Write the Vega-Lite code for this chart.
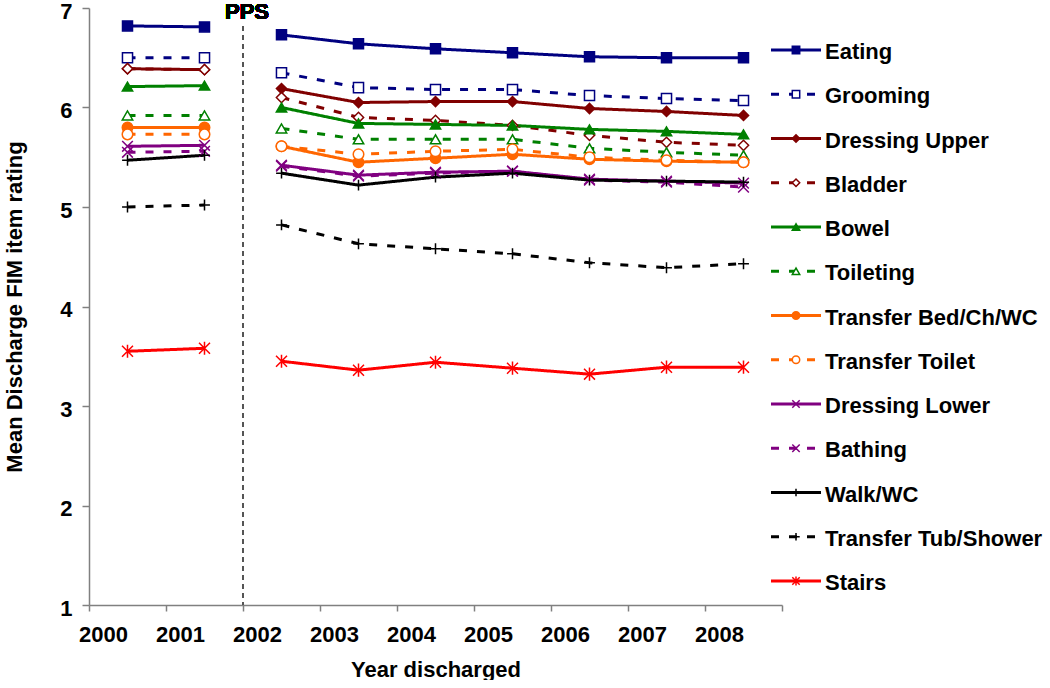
{
  "$schema": "https://vega.github.io/schema/vega-lite/v6.json",
  "padding": {"left": 3, "top": 0, "right": 0, "bottom": 0},
  "autosize": {"type": "pad"},
  "bounds": "flush",
  "spacing": 0,
  "config": {"view": {"stroke": null}, "font": "Liberation Sans"},
  "data": {"values": [
    {"item": "Eating", "year": 2000, "value": 6.82}, {"item": "Eating", "year": 2001, "value": 6.81}, {"item": "Eating", "year": 2002, "value": 6.73}, {"item": "Eating", "year": 2003, "value": 6.64}, {"item": "Eating", "year": 2004, "value": 6.59}, {"item": "Eating", "year": 2005, "value": 6.55}, {"item": "Eating", "year": 2006, "value": 6.51}, {"item": "Eating", "year": 2007, "value": 6.50}, {"item": "Eating", "year": 2008, "value": 6.50},
    {"item": "Grooming", "year": 2000, "value": 6.50}, {"item": "Grooming", "year": 2001, "value": 6.50}, {"item": "Grooming", "year": 2002, "value": 6.35}, {"item": "Grooming", "year": 2003, "value": 6.20}, {"item": "Grooming", "year": 2004, "value": 6.18}, {"item": "Grooming", "year": 2005, "value": 6.18}, {"item": "Grooming", "year": 2006, "value": 6.12}, {"item": "Grooming", "year": 2007, "value": 6.09}, {"item": "Grooming", "year": 2008, "value": 6.07},
    {"item": "Dressing Upper", "year": 2000, "value": 6.39}, {"item": "Dressing Upper", "year": 2001, "value": 6.38}, {"item": "Dressing Upper", "year": 2002, "value": 6.19}, {"item": "Dressing Upper", "year": 2003, "value": 6.05}, {"item": "Dressing Upper", "year": 2004, "value": 6.06}, {"item": "Dressing Upper", "year": 2005, "value": 6.06}, {"item": "Dressing Upper", "year": 2006, "value": 5.99}, {"item": "Dressing Upper", "year": 2007, "value": 5.96}, {"item": "Dressing Upper", "year": 2008, "value": 5.92},
    {"item": "Bladder", "year": 2000, "value": 6.39}, {"item": "Bladder", "year": 2001, "value": 6.38}, {"item": "Bladder", "year": 2002, "value": 6.10}, {"item": "Bladder", "year": 2003, "value": 5.90}, {"item": "Bladder", "year": 2004, "value": 5.87}, {"item": "Bladder", "year": 2005, "value": 5.82}, {"item": "Bladder", "year": 2006, "value": 5.72}, {"item": "Bladder", "year": 2007, "value": 5.65}, {"item": "Bladder", "year": 2008, "value": 5.62},
    {"item": "Bowel", "year": 2000, "value": 6.21}, {"item": "Bowel", "year": 2001, "value": 6.22}, {"item": "Bowel", "year": 2002, "value": 6.00}, {"item": "Bowel", "year": 2003, "value": 5.84}, {"item": "Bowel", "year": 2004, "value": 5.83}, {"item": "Bowel", "year": 2005, "value": 5.82}, {"item": "Bowel", "year": 2006, "value": 5.78}, {"item": "Bowel", "year": 2007, "value": 5.76}, {"item": "Bowel", "year": 2008, "value": 5.73},
    {"item": "Toileting", "year": 2000, "value": 5.92}, {"item": "Toileting", "year": 2001, "value": 5.92}, {"item": "Toileting", "year": 2002, "value": 5.79}, {"item": "Toileting", "year": 2003, "value": 5.68}, {"item": "Toileting", "year": 2004, "value": 5.68}, {"item": "Toileting", "year": 2005, "value": 5.68}, {"item": "Toileting", "year": 2006, "value": 5.59}, {"item": "Toileting", "year": 2007, "value": 5.55}, {"item": "Toileting", "year": 2008, "value": 5.52},
    {"item": "Transfer Bed/Ch/WC", "year": 2000, "value": 5.80}, {"item": "Transfer Bed/Ch/WC", "year": 2001, "value": 5.80}, {"item": "Transfer Bed/Ch/WC", "year": 2002, "value": 5.61}, {"item": "Transfer Bed/Ch/WC", "year": 2003, "value": 5.45}, {"item": "Transfer Bed/Ch/WC", "year": 2004, "value": 5.49}, {"item": "Transfer Bed/Ch/WC", "year": 2005, "value": 5.53}, {"item": "Transfer Bed/Ch/WC", "year": 2006, "value": 5.48}, {"item": "Transfer Bed/Ch/WC", "year": 2007, "value": 5.46}, {"item": "Transfer Bed/Ch/WC", "year": 2008, "value": 5.45},
    {"item": "Transfer Toilet", "year": 2000, "value": 5.73}, {"item": "Transfer Toilet", "year": 2001, "value": 5.73}, {"item": "Transfer Toilet", "year": 2002, "value": 5.61}, {"item": "Transfer Toilet", "year": 2003, "value": 5.53}, {"item": "Transfer Toilet", "year": 2004, "value": 5.56}, {"item": "Transfer Toilet", "year": 2005, "value": 5.58}, {"item": "Transfer Toilet", "year": 2006, "value": 5.50}, {"item": "Transfer Toilet", "year": 2007, "value": 5.47}, {"item": "Transfer Toilet", "year": 2008, "value": 5.45},
    {"item": "Dressing Lower", "year": 2000, "value": 5.61}, {"item": "Dressing Lower", "year": 2001, "value": 5.62}, {"item": "Dressing Lower", "year": 2002, "value": 5.42}, {"item": "Dressing Lower", "year": 2003, "value": 5.32}, {"item": "Dressing Lower", "year": 2004, "value": 5.35}, {"item": "Dressing Lower", "year": 2005, "value": 5.36}, {"item": "Dressing Lower", "year": 2006, "value": 5.28}, {"item": "Dressing Lower", "year": 2007, "value": 5.26}, {"item": "Dressing Lower", "year": 2008, "value": 5.24},
    {"item": "Bathing", "year": 2000, "value": 5.55}, {"item": "Bathing", "year": 2001, "value": 5.56}, {"item": "Bathing", "year": 2002, "value": 5.41}, {"item": "Bathing", "year": 2003, "value": 5.31}, {"item": "Bathing", "year": 2004, "value": 5.34}, {"item": "Bathing", "year": 2005, "value": 5.36}, {"item": "Bathing", "year": 2006, "value": 5.27}, {"item": "Bathing", "year": 2007, "value": 5.25}, {"item": "Bathing", "year": 2008, "value": 5.20},
    {"item": "Walk/WC", "year": 2000, "value": 5.47}, {"item": "Walk/WC", "year": 2001, "value": 5.52}, {"item": "Walk/WC", "year": 2002, "value": 5.34}, {"item": "Walk/WC", "year": 2003, "value": 5.22}, {"item": "Walk/WC", "year": 2004, "value": 5.30}, {"item": "Walk/WC", "year": 2005, "value": 5.34}, {"item": "Walk/WC", "year": 2006, "value": 5.27}, {"item": "Walk/WC", "year": 2007, "value": 5.26}, {"item": "Walk/WC", "year": 2008, "value": 5.25},
    {"item": "Transfer Tub/Shower", "year": 2000, "value": 5.00}, {"item": "Transfer Tub/Shower", "year": 2001, "value": 5.02}, {"item": "Transfer Tub/Shower", "year": 2002, "value": 4.82}, {"item": "Transfer Tub/Shower", "year": 2003, "value": 4.63}, {"item": "Transfer Tub/Shower", "year": 2004, "value": 4.58}, {"item": "Transfer Tub/Shower", "year": 2005, "value": 4.53}, {"item": "Transfer Tub/Shower", "year": 2006, "value": 4.44}, {"item": "Transfer Tub/Shower", "year": 2007, "value": 4.39}, {"item": "Transfer Tub/Shower", "year": 2008, "value": 4.43},
    {"item": "Stairs", "year": 2000, "value": 3.55}, {"item": "Stairs", "year": 2001, "value": 3.58}, {"item": "Stairs", "year": 2002, "value": 3.45}, {"item": "Stairs", "year": 2003, "value": 3.36}, {"item": "Stairs", "year": 2004, "value": 3.44}, {"item": "Stairs", "year": 2005, "value": 3.38}, {"item": "Stairs", "year": 2006, "value": 3.32}, {"item": "Stairs", "year": 2007, "value": 3.39}, {"item": "Stairs", "year": 2008, "value": 3.39}
  ]},
  "hconcat": [
    {
      "width": 693,
      "height": 597,
      "layer": [
        {
          "mark": {"type": "rule", "color": "#555555", "strokeDash": [5, 4], "strokeWidth": 2},
          "encoding": {
            "x": {"datum": 2002, "type": "ordinal", "bandPosition": 0, "scale": {"type": "band", "domain": [2000, 2001, 2002, 2003, 2004, 2005, 2006, 2007, 2008], "paddingInner": 0, "paddingOuter": 0}},
            "y": {"datum": 6.82, "type": "quantitative", "scale": {"domain": [1, 7], "nice": false, "zero": false}},
            "y2": {"datum": 1}
          }
        },
        {
          "mark": {"type": "text", "text": "PPS", "fontSize": 22, "fontWeight": "bold", "align": "center", "baseline": "top", "dx": 4, "dy": -6, "fill": "#000000", "stroke": null},
          "encoding": {
            "x": {"datum": 2002, "type": "ordinal", "bandPosition": 0},
            "y": {"datum": 7, "type": "quantitative"}
          }
        },
        {
          "encoding": {
            "x": {"field": "year", "type": "ordinal", "scale": {"type": "band", "domain": [2000, 2001, 2002, 2003, 2004, 2005, 2006, 2007, 2008], "paddingInner": 0, "paddingOuter": 0},
              "axis": {"title": "Year discharged", "labelAngle": 0, "tickBand": "extent", "labelFontSize": 22, "labelFontWeight": "bold", "labelColor": "#000000", "titleFontSize": 22, "titleFontWeight": "bold", "titleColor": "#000000", "domainColor": "#808080", "tickColor": "#808080", "tickSize": 6, "labelPadding": 23, "titlePadding": 14, "domainWidth": 1.5, "tickWidth": 1.5}},
            "y": {"field": "value", "type": "quantitative", "scale": {"domain": [1, 7], "nice": false, "zero": false},
              "axis": {"title": "Mean Discharge FIM item rating", "values": [1, 2, 3, 4, 5, 6, 7], "format": "d", "grid": false, "labelOffset": 3, "labelFontSize": 22, "labelFontWeight": "bold", "labelColor": "#000000", "titleFontSize": 22, "titleFontWeight": "bold", "titleColor": "#000000", "domainColor": "#808080", "tickColor": "#808080", "tickSize": 7, "labelPadding": 10, "titlePadding": 33, "domainWidth": 1.5, "tickWidth": 1.5}},
            "stroke": {"field": "item", "type": "nominal", "legend": null, "scale": {"domain": ["Eating", "Grooming", "Dressing Upper", "Bladder", "Bowel", "Toileting", "Transfer Bed/Ch/WC", "Transfer Toilet", "Dressing Lower", "Bathing", "Walk/WC", "Transfer Tub/Shower", "Stairs"], "range": ["#000080", "#000080", "#800000", "#800000", "#008000", "#008000", "#FF6600", "#FF6600", "#800080", "#800080", "#000000", "#000000", "#FF0000"]}}
          },
          "layer": [
            {
              "transform": [{"filter": "datum.year <= 2001"}],
              "mark": {"type": "line", "strokeWidth": 3},
              "encoding": {
                "strokeDash": {"field": "item", "type": "nominal", "legend": null, "scale": {"domain": ["Eating", "Grooming", "Dressing Upper", "Bladder", "Bowel", "Toileting", "Transfer Bed/Ch/WC", "Transfer Toilet", "Dressing Lower", "Bathing", "Walk/WC", "Transfer Tub/Shower", "Stairs"], "range": [[1, 0], [8, 10], [1, 0], [8, 10], [1, 0], [8, 10], [1, 0], [8, 10], [1, 0], [8, 10], [1, 0], [8, 10], [1, 0]]}}
              }
            },
            {
              "transform": [{"filter": "datum.year >= 2002"}],
              "mark": {"type": "line", "strokeWidth": 3},
              "encoding": {
                "strokeDash": {"field": "item", "type": "nominal", "legend": null}
              }
            },
            {
              "mark": {"type": "point", "filled": true, "opacity": 1, "strokeWidth": 1.5},
              "encoding": {
                "shape": {"field": "item", "type": "nominal", "legend": null, "scale": {"domain": ["Eating", "Grooming", "Dressing Upper", "Bladder", "Bowel", "Toileting", "Transfer Bed/Ch/WC", "Transfer Toilet", "Dressing Lower", "Bathing", "Walk/WC", "Transfer Tub/Shower", "Stairs"], "range": ["square", "square", "diamond", "diamond", "triangle-up", "triangle-up", "circle", "circle", "M-1,-1L1,1M-1,1L1,-1", "M-1,-1L1,1M-1,1L1,-1", "M-1,0L1,0M0,-1L0,1", "M-1,0L1,0M0,-1L0,1", "M-1,-1L1,1M-1,1L1,-1M0,-1.2L0,1.2"]}},
                "fill": {"field": "item", "type": "nominal", "legend": null, "scale": {"domain": ["Eating", "Grooming", "Dressing Upper", "Bladder", "Bowel", "Toileting", "Transfer Bed/Ch/WC", "Transfer Toilet", "Dressing Lower", "Bathing", "Walk/WC", "Transfer Tub/Shower", "Stairs"], "range": ["#000080", "#FFFFFF", "#800000", "#FFFFFF", "#008000", "#FFFFFF", "#FF6600", "#FFFFFF", "#FFFFFF", "#FFFFFF", "#FFFFFF", "#FFFFFF", "#FFFFFF"]}},
                "size": {"field": "item", "type": "nominal", "legend": null, "scale": {"domain": ["Eating", "Grooming", "Dressing Upper", "Bladder", "Bowel", "Toileting", "Transfer Bed/Ch/WC", "Transfer Toilet", "Dressing Lower", "Bathing", "Walk/WC", "Transfer Tub/Shower", "Stairs"], "range": [100, 120, 80, 90, 100, 100, 100, 110, 110, 110, 120, 120, 110]}}
              }
            }
          ]
        }
      ]
    },
    {
      "width": 267,
      "height": 597,
      "transform": [{"filter": "datum.year == 2008"}],
      "encoding": {
        "y": {"field": "item", "type": "nominal", "axis": null, "scale": {"type": "point", "padding": 0, "domain": ["Eating", "Grooming", "Dressing Upper", "Bladder", "Bowel", "Toileting", "Transfer Bed/Ch/WC", "Transfer Toilet", "Dressing Lower", "Bathing", "Walk/WC", "Transfer Tub/Shower", "Stairs"], "range": [42, 573]}},
        "stroke": {"field": "item", "type": "nominal", "legend": null}
      },
      "layer": [
        {
          "mark": {"type": "rule", "strokeWidth": 3},
          "encoding": {
            "x": {"datum": -11, "type": "quantitative", "axis": null, "scale": {"domain": [0, 267], "nice": false, "zero": false}},
            "x2": {"datum": 39},
            "strokeDash": {"field": "item", "type": "nominal", "legend": null}
          }
        },
        {
          "mark": {"type": "point", "filled": true, "opacity": 1, "strokeWidth": 1.5, "size": 55},
          "encoding": {
            "x": {"datum": 14, "type": "quantitative"},
            "shape": {"field": "item", "type": "nominal", "legend": null},
            "fill": {"field": "item", "type": "nominal", "legend": null}
          }
        },
        {
          "mark": {"type": "text", "align": "left", "baseline": "middle", "fontSize": 22, "fontWeight": "bold", "dy": 2, "fill": "#000000"},
          "encoding": {
            "x": {"datum": 43, "type": "quantitative"},
            "text": {"field": "item"},
            "stroke": {"value": null}
          }
        }
      ]
    }
  ]
}
